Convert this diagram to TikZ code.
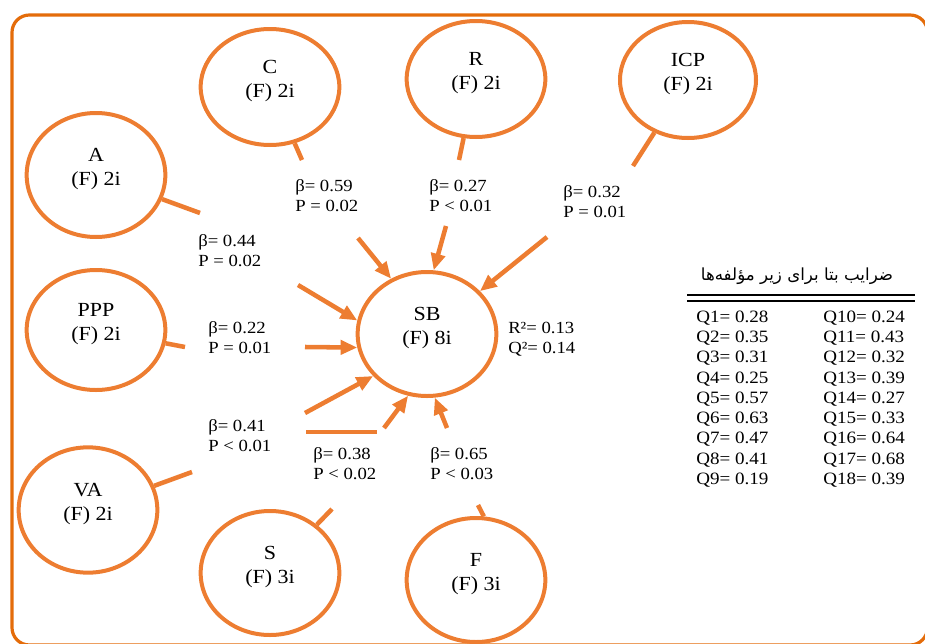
\documentclass[tikz,border=0pt]{standalone}
\usepackage{fontspec}
\setmainfont{Liberation Serif}[FakeStretch=1.1]
\newfontfamily\persianfont[Script=Arabic]{DejaVu Sans}
\TeXXeTstate=1
\usetikzlibrary{arrows.meta,shapes.geometric}
\definecolor{ringorange}{RGB}{237,125,49}
\definecolor{frameorange}{RGB}{228,108,10}
\tikzset{factor/.style = {ellipse, draw=ringorange, line width=3pt, align=center, inner sep=0pt,
                          minimum width=104pt, minimum height=93pt, font=\fontsize{15}{18}\selectfont,
                          execute at end node={\rule[-12pt]{0pt}{0pt}}}}
\tikzset{link/.style = {ringorange, line width=3.4pt}}
\tikzset{edge/.style = {link, -{Triangle[length=12.5pt,width=10.5pt]}}}
\tikzset{coef/.style = {anchor=west, align=left, inner sep=0pt, font=\fontsize{12.75}{15}\selectfont}}
\tikzset{qval/.style = {anchor=west, inner sep=0pt, font=\fontsize{13}{15}\selectfont}}

\begin{document}
\begin{tikzpicture}[x=0.75pt,y=-0.75pt]
\useasboundingbox (0,0) rectangle (925,643);
\draw[frameorange, line width=2.4pt, rounded corners=13pt] (12,15) rectangle (927.5,645);

% latent factors
\node[factor] (SB) at (427,334) {SB\\(F) 8i};
\node[factor, minimum height=87pt] (C) at (270,87) {C\\(F) 2i};
\node[factor, minimum height=87pt] (R) at (476,79) {R\\(F) 2i};
\node[factor, minimum height=87pt, minimum width=102pt] (ICP) at (688,80) {ICP\\(F) 2i};
\node[factor] (A) at (96,175) {A\\(F) 2i};
\node[factor, minimum height=90pt] (PPP) at (96,330) {PPP\\(F) 2i};
\node[factor, minimum height=94pt] (VA) at (88,510) {VA\\(F) 2i};
\node[factor] (S) at (270,573) {S\\(F) 3i};
\node[factor] (F) at (476,580) {F\\(F) 3i};

% free ends of the broken paths
\coordinate (a1) at (200,213);  \coordinate (a2) at (298,285);
\coordinate (c1) at (302,160);  \coordinate (c2) at (358,238);
\coordinate (r1) at (459,160);  \coordinate (r2) at (446,226);
\coordinate (i1) at (633,166);  \coordinate (i2) at (547,237);
\coordinate (p1) at (185,347);  \coordinate (p2) at (305,347);
\coordinate (v1) at (192,472);  \coordinate (v2) at (305,413);
\coordinate (s1) at (332,509);  \coordinate (s2) at (384,428);
\coordinate (s3) at (306,432);  \coordinate (s4) at (377,432);
\coordinate (f1) at (478,505);  \coordinate (f2) at (447,428);

% path A to SB
\draw[link] (A) -- (a1);
\draw[edge] (a2) -- (SB.169);

% path C to SB
\draw[link] (C) -- (c1);
\draw[edge] (c2) -- (SB.123);

% path R to SB
\draw[link] (R) -- (r1);
\draw[edge] (r2) -- (SB.84);

% path ICP to SB
\draw[link] (ICP) -- (i1);
\draw[edge] (i2) -- (SB.39);

% path PPP to SB
\draw[link] (PPP) -- (p1);
\draw[edge] (p2) -- (SB.191);

% path VA to SB
\draw[link] (VA) -- (v1);
\draw[edge] (v2) -- (SB.218);

% path S to SB
\draw[link] (S) -- (s1);
\draw[link] (s3) -- (s4);
\draw[edge] (s2) -- (SB.253);

% path F to SB
\draw[link] (F.83) -- (f1);
\draw[edge] (f2) -- (SB.277);

% path coefficients
\node[coef] (betaA) at (198,251) {β= 0.44\\P = 0.02};
\node[coef] (betaC) at (295,196) {β= 0.59\\P = 0.02};
\node[coef] (betaR) at (429,196) {β= 0.27\\P < 0.01};
\node[coef] (betaICP) at (563,202) {β= 0.32\\P = 0.01};
\node[coef] (betaPPP) at (208,338) {β= 0.22\\P = 0.01};
\node[coef] (betaVA) at (208,436) {β= 0.41\\P < 0.01};
\node[coef] (betaS) at (313,464) {β= 0.38\\P < 0.02};
\node[coef] (betaF) at (430,464) {β= 0.65\\P < 0.03};
\node[coef] (fitSB) at (508,339) {R²= 0.13\\Q²= 0.14};

% table of item loadings
\node[font=\fontsize{12.5}{14}\persianfont] (qhead) at (797,276) {\beginR ضرایب بتا برای زیر مؤلفه‌ها\endR};
\draw[line width=1.1pt] (687,295) -- (915,295);
\draw[line width=1.1pt] (687,301) -- (915,301);
\foreach \v [count=\i] in {0.28,0.35,0.31,0.25,0.57,0.63,0.47,0.41,0.19}
  \node[qval] (q\i) at (696,{318+(\i-1)*20.25}) {Q\i= \v};
\foreach \v [count=\i from 10] in {0.24,0.43,0.32,0.39,0.27,0.33,0.64,0.68,0.39}
  \node[qval] (q\i) at (823,{318+(\i-10)*20.25}) {Q\i= \v};
\end{tikzpicture}
\end{document}
